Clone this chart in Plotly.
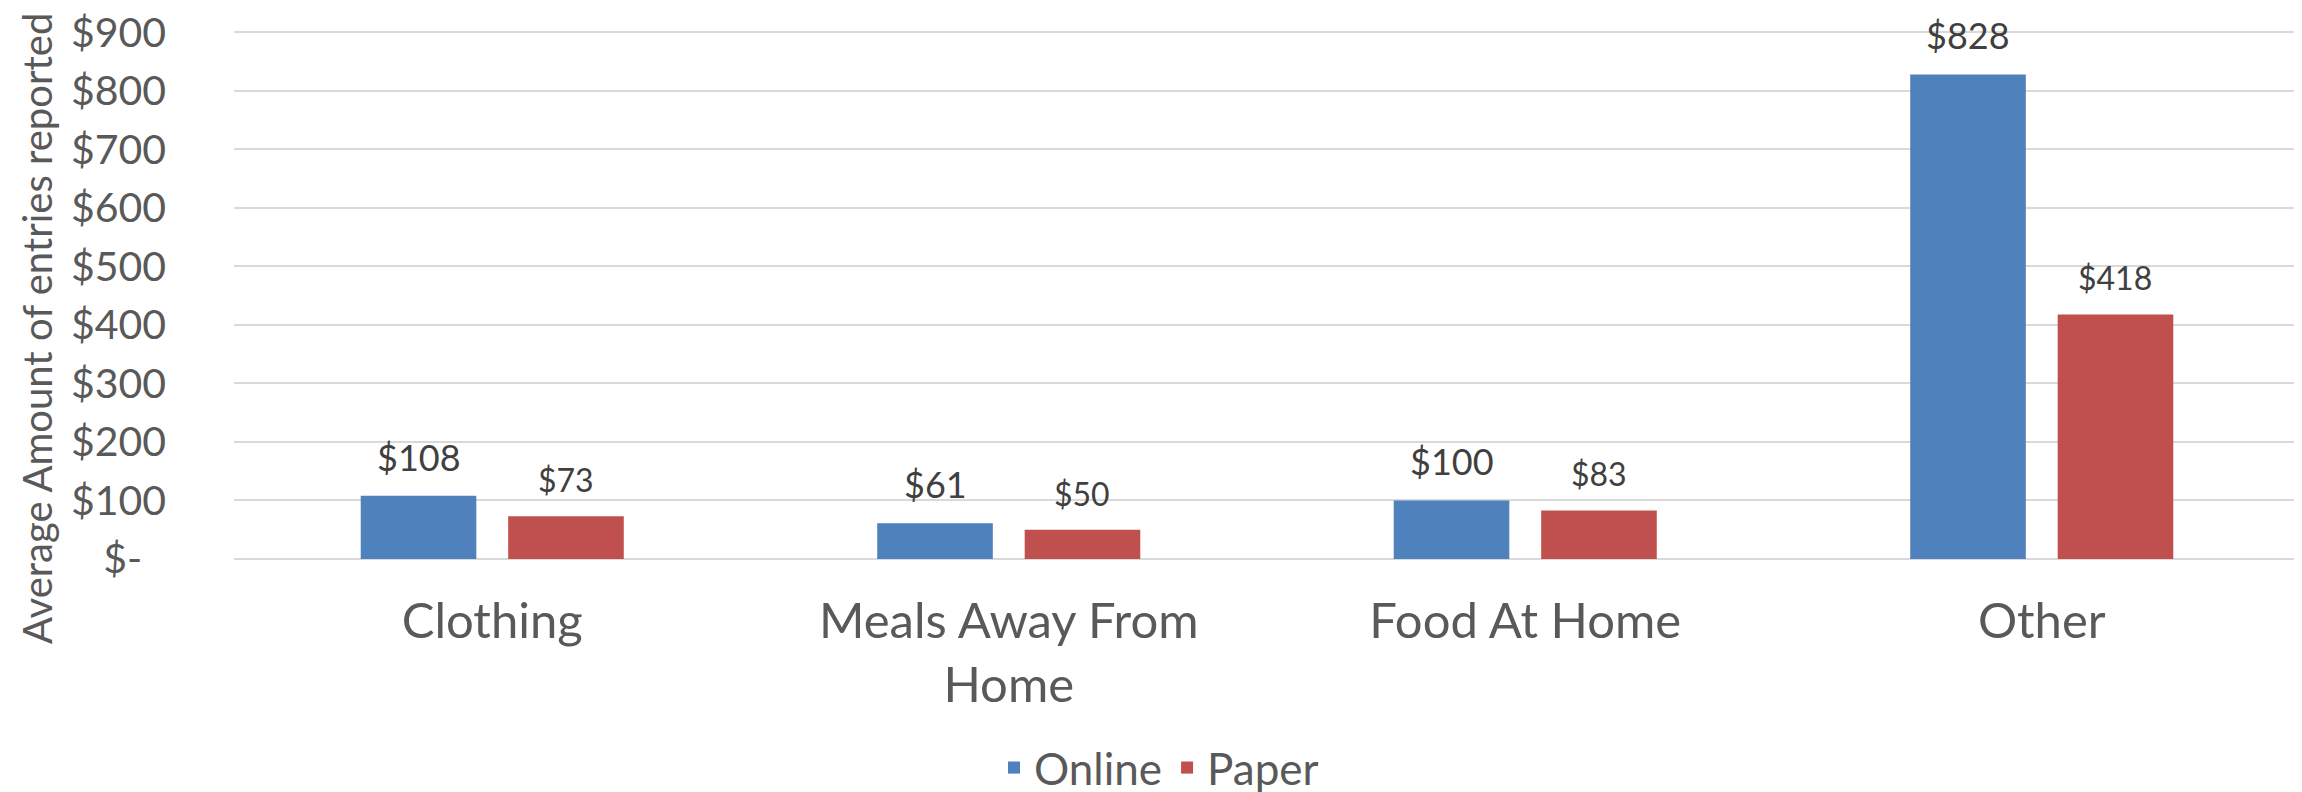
import plotly.graph_objects as go

# ---- data ----
categories = ["Clothing", "Meals Away From<br>Home", "Food At Home", "Other"]
online = [108, 61, 100, 828]
paper = [73, 50, 83, 418]
y_tick_values = [0, 100, 200, 300, 400, 500, 600, 700, 800, 900]
y_tick_labels = ["$-\u2007", "$100", "$200", "$300", "$400", "$500",
                 "$600", "$700", "$800", "$900"]
series_names = ["Online", "Paper"]
y_title = "Average Amount of entries reported"

# ---- styling ----
W, H = 2302, 792
M = dict(l=226, r=10, t=22, b=241)
Y_RANGE = [0, 904]
BARGAP = 0.429
BARGROUPGAP = 0.216
FONT = "Lato"
BLUE = "#4F81BD"
RED = "#C0504D"
AXIS_TEXT = "#595959"
LABEL_TEXT = "#404040"
GRID = "#D9D9D9"

fig = go.Figure()
fig.add_trace(go.Bar(name=series_names[0], x=categories, y=online,
                     marker=dict(color=BLUE, line=dict(width=0))))
fig.add_trace(go.Bar(name=series_names[1], x=categories, y=paper,
                     marker=dict(color=RED, line=dict(width=0))))

# data labels above each bar (offset to the bar's slot within its group)
plot_w = W - M["l"] - M["r"]
cat_w = plot_w / len(categories)
slot_offset = cat_w * (1 - BARGAP) / 4
for values, sign, size in [(online, -1, 36), (paper, 1, 32)]:
    for c, v in zip(categories, values):
        fig.add_annotation(
            x=c, y=v, xref="x", yref="y", text=f"${v}", showarrow=False,
            xanchor="center", yanchor="bottom", xshift=sign * slot_offset,
            yshift=15, font=dict(family=FONT, size=size, color=LABEL_TEXT),
        )

# y-axis title
fig.add_annotation(
    text=y_title, textangle=-90, showarrow=False,
    xref="paper", yref="paper",
    x=(29 - M["l"]) / plot_w, y=0.435, xanchor="center", yanchor="middle",
    font=dict(family=FONT, size=40, color=AXIS_TEXT),
)

fig.update_layout(
    width=W, height=H, margin=M,
    paper_bgcolor="white", plot_bgcolor="white",
    barmode="group", bargap=BARGAP, bargroupgap=BARGROUPGAP,
    font=dict(family=FONT, color=AXIS_TEXT),
    showlegend=True,
    legend=dict(orientation="h", xref="container", yref="container",
                x=0.5, xanchor="center", y=(H - 760) / H, yanchor="middle",
                font=dict(family=FONT, size=44, color=AXIS_TEXT),
                itemwidth=30, traceorder="normal"),
    xaxis=dict(showline=False, ticks="", showgrid=False, automargin=False,
               tickfont=dict(family=FONT, size=49, color=AXIS_TEXT),
               ticklabelstandoff=29),
    yaxis=dict(range=Y_RANGE, tickmode="array", tickvals=y_tick_values,
               ticktext=y_tick_labels, showgrid=True, gridcolor=GRID,
               gridwidth=1.5, zeroline=True, zerolinecolor=GRID,
               zerolinewidth=1.5, showline=False, ticks="",
               automargin=False, ticklabeloverflow="allow",
               tickfont=dict(family=FONT, size=41, color=AXIS_TEXT),
               ticklabelstandoff=67),
)

fig.write_html("out.html")
